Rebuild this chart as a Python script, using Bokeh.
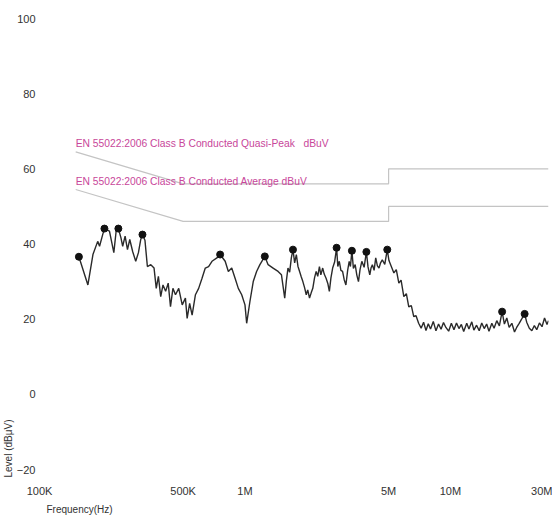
from bokeh.plotting import figure
from bokeh.models import Range1d, FixedTicker, Label, Title
from bokeh.embed import file_html
from bokeh.resources import INLINE

# ---- data (frequency in MHz, level in dBuV) ----
freq_mhz = [
    0.1555, 0.172, 0.182, 0.192, 0.196, 0.203, 0.207, 0.219, 0.230, 0.236,
    0.242, 0.249, 0.254, 0.261, 0.268, 0.275, 0.284, 0.294, 0.303, 0.311,
    0.317, 0.326, 0.335, 0.348, 0.361, 0.370, 0.379, 0.389, 0.399, 0.411,
    0.423, 0.434, 0.446, 0.459, 0.476, 0.495, 0.513, 0.523, 0.538, 0.553,
    0.574, 0.595, 0.618, 0.641, 0.665, 0.691, 0.730, 0.757, 0.801, 0.830,
    0.862, 0.895, 0.928, 0.964, 1.000, 1.019, 1.057, 1.097, 1.139, 1.182,
    1.249, 1.296, 1.370, 1.449, 1.505, 1.53, 1.561, 1.59, 1.619, 1.65,
    1.681, 1.712, 1.745, 1.778, 1.81, 1.844, 1.88, 1.913, 1.95, 1.987,
    2.02, 2.061, 2.10, 2.138, 2.18, 2.220, 2.26, 2.303, 2.34, 2.389,
    2.43, 2.481, 2.53, 2.574, 2.62, 2.671, 2.73, 2.792, 2.83, 2.877,
    2.93, 2.985, 3.04, 3.099, 3.16, 3.215, 3.26, 3.314, 3.37, 3.438,
    3.50, 3.567, 3.63, 3.704, 3.80, 3.898, 3.97, 4.049, 4.11, 4.168,
    4.25, 4.328, 4.41, 4.490, 4.57, 4.658, 4.79, 4.925, 5.02, 5.114,
    5.305, 5.45, 5.608, 5.75, 5.929, 6.10, 6.268, 6.45, 6.627, 6.80,
    7.0, 7.2, 7.4, 7.6, 7.8, 8.0, 8.25, 8.5, 8.75, 9.0,
    9.25, 9.5, 9.8, 10.1, 10.4, 10.7, 11.0, 11.3, 11.6, 12.0,
    12.3, 12.7, 13.0, 13.4, 13.8, 14.2, 14.6, 15.0, 15.4, 15.9,
    16.3, 16.8, 17.3, 17.84, 18.3, 18.8, 19.3, 19.9, 20.5, 21.0,
    21.6, 22.3, 22.96, 23.5, 24.2, 24.9, 25.6, 26.3, 27.1, 27.9,
    28.7, 29.5, 30.0,
]
level_dbuv = [
    36.6, 29.1, 37.2, 40.7, 39.4, 42.5, 44.1, 43.4, 37.7, 43.4,
    44.1, 41.7, 39.4, 42.1, 38.5, 41.2, 38.0, 35.4, 37.7, 41.2,
    42.5, 41.0, 34.0, 34.5, 33.6, 28.2, 31.4, 26.0, 29.1, 27.4,
    29.6, 23.3, 28.2, 26.5, 28.2, 23.8, 25.6, 20.2, 24.2, 21.1,
    26.5, 28.2, 30.9, 33.6, 34.0, 35.4, 36.3, 37.2, 35.4, 32.7,
    33.6, 30.9, 28.2, 26.5, 23.8, 18.9, 24.7, 30.0, 32.7, 34.5,
    36.7, 34.5, 33.6, 32.7, 31.8, 29.0, 25.6, 30.2, 33.6, 32.5,
    36.3, 38.5, 35.0, 37.2, 34.1, 32.7, 31.2, 30.0, 28.4, 26.5,
    27.8, 25.6, 27.0, 28.2, 31.0, 32.7, 31.4, 34.0, 31.8, 33.6,
    32.0, 30.9, 29.5, 27.4, 31.0, 33.6, 35.2, 39.0, 34.0, 35.4,
    33.0, 32.7, 30.5, 29.1, 33.0, 35.4, 34.0, 38.2, 33.5, 34.5,
    31.8, 30.0, 33.2, 35.4, 33.8, 37.9, 33.9, 31.8, 33.7, 34.5,
    33.0, 36.3, 34.2, 33.6, 35.0, 35.8, 34.6, 38.5, 35.6, 34.5,
    32.3, 33.2, 29.6, 30.4, 26.0, 26.8, 23.3, 23.6, 20.7, 20.9,
    18.9, 17.6, 19.2, 17.0, 18.8, 17.4, 19.4, 16.9, 18.7, 17.3,
    19.1, 17.8, 16.8, 18.9, 17.2, 19.0, 17.5, 18.6, 16.7, 18.9,
    17.4, 19.3, 17.1, 18.4, 16.9, 19.0, 17.5, 18.7, 16.8, 18.9,
    17.6, 19.6, 18.2, 22.0, 18.7, 20.3, 17.8, 18.9, 16.6, 17.8,
    18.9, 20.2, 21.4, 19.2, 17.6, 16.9, 18.3, 17.2, 19.0, 18.0,
    20.3, 18.6, 19.6,
]

peak_freq_mhz = [0.1555, 0.207, 0.242, 0.317, 0.757, 1.249, 1.712,
                 2.792, 3.314, 3.898, 4.925, 17.84, 22.96]
peak_level_dbuv = [36.6, 44.1, 44.1, 42.5, 37.2, 36.7, 38.5,
                   39.0, 38.2, 37.9, 38.5, 22.0, 21.4]

limit_freq_mhz = [0.15, 0.5, 5.0, 5.0, 30.0]
qp_limit_dbuv = [64.5, 56.0, 56.0, 60.0, 60.0]
avg_limit_dbuv = [54.5, 46.0, 46.0, 50.0, 50.0]

qp_label = "EN 55022:2006 Class B Conducted Quasi-Peak\u00a0\u00a0 dBuV"
avg_label = "EN 55022:2006 Class B Conducted Average dBuV"

x_ticks = [0.1, 0.5, 1, 5, 10, 30]
x_tick_labels = ["100K", "500K", "1M", "5M", "10M", "30M"]
y_ticks = [-20, 0, 20, 40, 60, 80, 100]

FONT = "Liberation Sans"
LABEL_COLOR = "#c8469a"
LIMIT_COLOR = "#c4c4c4"
TEXT_COLOR = "#333333"

p = figure(width=552, height=520, x_axis_type="log",
           x_range=Range1d(0.1, 30), y_range=Range1d(-20, 100),
           output_backend="svg", toolbar_location=None,
           min_border_left=38, min_border_right=4,
           min_border_top=18, min_border_bottom=51)
p.outline_line_color = None
p.grid.visible = False
p.background_fill_color = "white"
p.border_fill_color = "white"

# limit lines
p.line(limit_freq_mhz, qp_limit_dbuv, line_color=LIMIT_COLOR, line_width=1.2)
p.line(limit_freq_mhz, avg_limit_dbuv, line_color=LIMIT_COLOR, line_width=1.2)

# measured trace
p.line(freq_mhz, level_dbuv, line_color="#2a2a2a", line_width=1.4)

# peak markers
p.scatter(peak_freq_mhz, peak_level_dbuv, size=7, marker="circle",
          fill_color="#111111", line_color="#111111")

# limit labels
p.add_layout(Label(x=limit_freq_mhz[0], y=qp_limit_dbuv[0] + 2.3, text=qp_label,
                   text_font=FONT, text_font_size="10.3px", text_color=LABEL_COLOR,
                   text_baseline="middle", text_align="left"))
p.add_layout(Label(x=limit_freq_mhz[0], y=avg_limit_dbuv[0] + 2.1, text=avg_label,
                   text_font=FONT, text_font_size="10.3px", text_color=LABEL_COLOR,
                   text_baseline="middle", text_align="left"))

# axes
xa = p.xaxis[0]
xa.ticker = FixedTicker(ticks=x_ticks)
xa.major_label_overrides = dict(zip(x_ticks, x_tick_labels))
ya = p.yaxis[0]
ya.ticker = FixedTicker(ticks=y_ticks)
for ax in (xa, ya):
    ax.axis_line_color = None
    ax.major_tick_line_color = None
    ax.minor_tick_line_color = None
    ax.major_tick_out = 0
    ax.major_tick_in = 0
    ax.minor_tick_out = 0
    ax.major_label_text_font = FONT
    ax.major_label_text_font_size = "11px"
    ax.major_label_text_color = TEXT_COLOR
xa.major_label_standoff = 15
ya.major_label_standoff = 4

# axis titles as side titles (bottom-left aligned, like the reference)
p.add_layout(Title(text="Level (dB\u03bcV)", align="left", offset=-8,
                   standoff=0, text_font=FONT, text_font_size="10px",
                   text_color=TEXT_COLOR, text_font_style="normal"), "left")
p.add_layout(Title(text="Frequency(Hz)", align="left", offset=7,
                   standoff=4, text_font=FONT, text_font_size="10px",
                   text_color=TEXT_COLOR, text_font_style="normal"), "below")

open("out.html", "w").write(file_html(p, INLINE))
